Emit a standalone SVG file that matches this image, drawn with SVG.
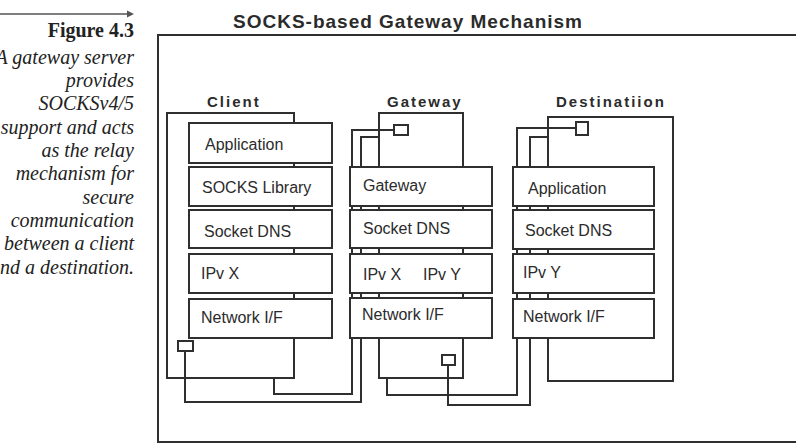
<svg xmlns="http://www.w3.org/2000/svg" width="796" height="446" viewBox="0 0 796 446">
<style>
.cap{font-family:"Liberation Serif","Times New Roman",serif;font-style:italic;font-size:20px;fill:#222;text-anchor:end}
.fig{font-family:"Liberation Serif","Times New Roman",serif;font-weight:bold;font-size:20px;fill:#222;text-anchor:end}
.title{font-family:"Liberation Sans",Arial,sans-serif;font-weight:bold;font-size:19px;fill:#2b2b2b;letter-spacing:1px}
.lbl{font-family:"Liberation Sans",Arial,sans-serif;font-weight:bold;font-size:15px;fill:#2b2b2b;letter-spacing:2px}
.t{font-family:"Liberation Sans",Arial,sans-serif;font-size:16px;fill:#2b2b2b}
.box{fill:#fff;stroke:#2f2f2f;stroke-width:2}
.frame{fill:none;stroke:#2f2f2f;stroke-width:2}
.sq{fill:#fff;stroke:#2f2f2f;stroke-width:2}
.wire{fill:none;stroke:#2f2f2f;stroke-width:2}
</style>
<rect width="796" height="446" fill="#fff"/>
<g id="caption">
<line x1="0" y1="14" x2="128" y2="14" stroke="#555" stroke-width="1.5"/>
<polygon points="127,10.5 134,14 127,17.5" fill="#555"/>
<text class="fig" x="134" y="37">Figure 4.3</text>
<text class="cap" x="134" y="64">A gateway server</text>
<text class="cap" x="134" y="87">provides</text>
<text class="cap" x="134" y="110">SOCKSv4/5</text>
<text class="cap" x="134" y="134">support and acts</text>
<text class="cap" x="134" y="157">as the relay</text>
<text class="cap" x="134" y="180">mechanism for</text>
<text class="cap" x="134" y="204">secure</text>
<text class="cap" x="134" y="227">communication</text>
<text class="cap" x="134" y="250">between a client</text>
<text class="cap" x="134" y="274">and a destination.</text>
</g>
<g id="panel">
<text class="title" x="233" y="28">SOCKS-based Gateway Mechanism</text>
<rect class="frame" x="158" y="35" width="700" height="407"/>
</g>
<g id="connectors">
<path class="wire" d="M274,378 V394 H352 V130 H394"/>
<path class="wire" d="M185,351 V402 H361 V137 H379"/>
<path class="wire" d="M387,378 V395 H517 V128 H576"/>
<path class="wire" d="M448,365 V405 H530 V137 H548"/>
</g>
<g id="client">
<text class="lbl" x="207" y="107">Client</text>
<rect class="frame" x="167" y="113" width="127" height="265"/>
<rect class="box" x="189" y="123" width="143" height="40"/>
<text class="t" x="205" y="150">Application</text>
<rect class="box" x="189" y="167" width="143" height="39"/>
<text class="t" x="202" y="193">SOCKS Library</text>
<rect class="box" x="189" y="210" width="143" height="38"/>
<text class="t" x="204" y="237">Socket DNS</text>
<rect class="box" x="189" y="254" width="143" height="39"/>
<text class="t" x="201" y="279">IPv X</text>
<rect class="box" x="189" y="299" width="143" height="39"/>
<text class="t" x="201" y="323">Network I/F</text>
<rect class="sq" x="178" y="341" width="15" height="10"/>
</g>
<g id="gateway">
<text class="lbl" x="387" y="107">Gateway</text>
<rect class="frame" x="379" y="113" width="84" height="265"/>
<rect class="sq" x="394" y="125" width="14" height="10"/>
<rect class="box" x="350" y="167" width="142" height="39"/>
<text class="t" x="363" y="191">Gateway</text>
<rect class="box" x="350" y="210" width="142" height="38"/>
<text class="t" x="363" y="234">Socket DNS</text>
<rect class="box" x="350" y="254" width="142" height="39"/>
<text class="t" x="363" y="280">IPv X</text>
<text class="t" x="423" y="280">IPv Y</text>
<rect class="box" x="350" y="298" width="142" height="40"/>
<text class="t" x="362" y="320">Network I/F</text>
<rect class="sq" x="442" y="355" width="13" height="10"/>
</g>
<g id="destination">
<text class="lbl" x="556" y="107">Destinatiion</text>
<rect class="frame" x="548" y="117" width="125" height="264"/>
<rect class="sq" x="576" y="122" width="12" height="13"/>
<rect class="box" x="513" y="167" width="141" height="39"/>
<text class="t" x="528" y="194">Application</text>
<rect class="box" x="513" y="210" width="141" height="39"/>
<text class="t" x="525" y="236">Socket DNS</text>
<rect class="box" x="513" y="254" width="141" height="39"/>
<text class="t" x="523" y="278">IPv Y</text>
<rect class="box" x="513" y="299" width="141" height="39"/>
<text class="t" x="523" y="322">Network I/F</text>
</g>
</svg>
